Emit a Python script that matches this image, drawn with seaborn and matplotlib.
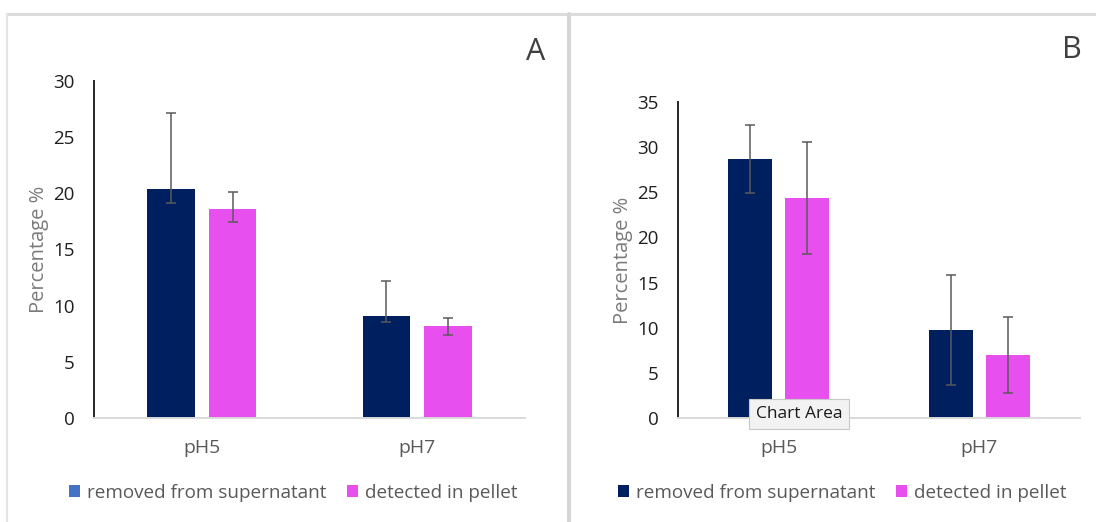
import numpy as np
import pandas as pd
import matplotlib
matplotlib.use("Agg")
import matplotlib.pyplot as plt
from matplotlib.patches import Patch
from matplotlib.lines import Line2D
import seaborn as sns

# ---- data -------------------------------------------------------------
categories = ["pH5", "pH7"]
series = ["removed from supernatant", "detected in pellet"]

# Panel A
a_removed = [20.4, 9.05]
a_removed_err_low = [1.3, 0.5]
a_removed_err_high = [6.7, 3.15]
a_pellet = [18.6, 8.15]
a_pellet_err_low = [1.2, 0.75]
a_pellet_err_high = [1.5, 0.75]

# Panel B
b_removed = [28.7, 9.75]
b_removed_err = [3.75, 6.1]
b_pellet = [24.4, 7.0]
b_pellet_err = [6.2, 4.2]

a_ticks = [0, 5, 10, 15, 20, 25, 30]
b_ticks = [0, 5, 10, 15, 20, 25, 30, 35]

# ---- style ------------------------------------------------------------
sns.set_theme(style="white")
plt.rcParams["font.family"] = ["Open Sans", "DejaVu Sans"]

NAVY = "#001F5F"
PINK = "#E84FEF"
LEGEND_BLUE = "#4472C4"
ERR = "#5a5a5a"

W, H = 1096, 522
fig = plt.figure(figsize=(W / 100, H / 100), dpi=100)


def px_axes(left, top, right, bottom):
    return fig.add_axes([left / W, 1 - bottom / H, (right - left) / W, (bottom - top) / H])


def draw_panel(ax, removed, pellet, err_removed, err_pellet, ticks, ymax):
    df = pd.DataFrame({
        "pH": categories * 2,
        "value": list(removed) + list(pellet),
        "series": [series[0]] * 2 + [series[1]] * 2,
    })
    sns.barplot(data=df, x="pH", y="value", hue="series", hue_order=series,
                order=categories, palette=[NAVY, PINK], saturation=1,
                width=0.572, gap=0.23, errorbar=None, legend=False,
                linewidth=0, ax=ax)
    for cont, (lo, hi) in zip(ax.containers, [err_removed, err_pellet]):
        xs = [b.get_x() + b.get_width() / 2 for b in cont]
        ys = [b.get_height() for b in cont]
        ax.errorbar(xs, ys, yerr=[lo, hi], fmt="none", ecolor=ERR,
                    elinewidth=1.1, capsize=3.5, capthick=1.1, zorder=5)
    ax.set_xlim(-0.5, 1.5)
    ax.set_ylim(0, ymax)
    ax.set_yticks(ticks)
    ax.set_yticklabels([str(t) for t in ticks])
    ax.set_xlabel("")
    ax.set_ylabel("Percentage %", fontsize=14.5, color="#7a7a7a", labelpad=3)
    ax.tick_params(axis="y", length=0, pad=14, labelsize=13.5, labelcolor="#1f1f1f")
    ax.tick_params(axis="x", length=0, pad=15, labelsize=14, labelcolor="#595959")
    for side in ["top", "right"]:
        ax.spines[side].set_visible(False)
    ax.spines["left"].set_color("#262626")
    ax.spines["left"].set_linewidth(1.4)
    ax.spines["bottom"].set_color("#d9d9d9")
    ax.spines["bottom"].set_linewidth(1.4)
    ax.set_facecolor("none")


# Panel A
axA = px_axes(94, 80.7, 525, 418)
draw_panel(axA, a_removed, a_pellet,
           (a_removed_err_low, a_removed_err_high),
           (a_pellet_err_low, a_pellet_err_high), a_ticks, 30)

# Panel B
axB = px_axes(678, 102, 1080, 418)
draw_panel(axB, b_removed, b_pellet,
           (b_removed_err, b_removed_err),
           (b_pellet_err, b_pellet_err), b_ticks, 35)

# panel letters
fig.text(536 / W, 1 - 52 / H, "A", fontsize=22, color="#404040", ha="center", va="center")
fig.text(1072 / W, 1 - 50 / H, "B", fontsize=22, color="#404040", ha="center", va="center")


# legends
def panel_legend(center_x, first_color):
    handles = [Patch(facecolor=first_color, edgecolor="none"),
               Patch(facecolor=PINK, edgecolor="none")]
    fig.legend(handles, series, loc="center", ncol=2,
               bbox_to_anchor=(center_x / W, 1 - 493 / H),
               frameon=False, fontsize=13.6, labelcolor="#595959",
               handlelength=0.6, handleheight=0.6, handletextpad=0.35,
               columnspacing=1.1, borderpad=0)


panel_legend(293, LEGEND_BLUE)
panel_legend(842, NAVY)

# chart-area frames
fig.add_artist(Line2D([7 / W, 1], [1 - 13.5 / H] * 2, color="#dcdcdc", lw=2.2))
fig.add_artist(Line2D([7 / W] * 2, [0, 1 - 13.5 / H], color="#e4e4e4", lw=1.5))
fig.add_artist(Line2D([568.5 / W] * 2, [0, 1 - 13.5 / H], color="#d6d6d6", lw=3.0))

# hover tooltip over panel B
fig.text(799 / W, 1 - 414 / H, "Chart Area", fontsize=12.5, color="#1a1a1a",
         ha="center", va="center", zorder=10,
         bbox=dict(boxstyle="square,pad=0.4", facecolor="#f2f2f2",
                   edgecolor="#c8c8c8", linewidth=0.8))

fig.savefig("out.png", dpi=100)
